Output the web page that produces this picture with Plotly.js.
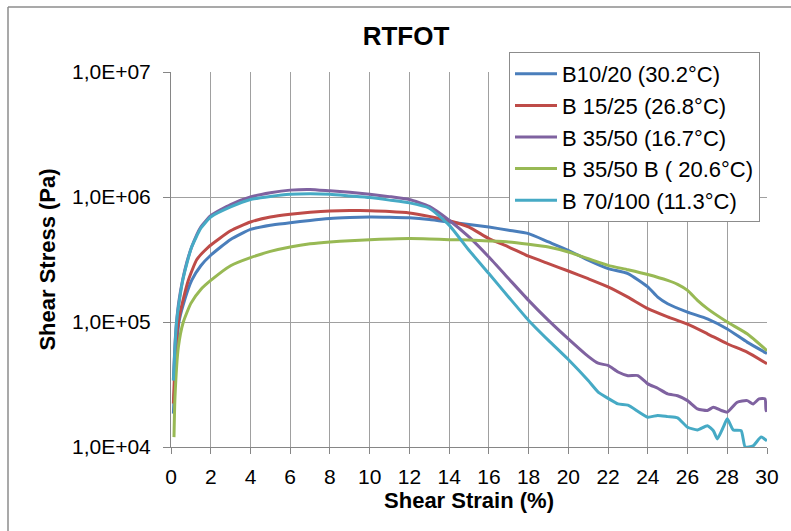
<!DOCTYPE html>
<html>
<head>
<meta charset="utf-8">
<script src="https://cdn.plot.ly/plotly-3.0.1.min.js"></script>
<style>
html,body{margin:0;padding:0;background:#fff;}
#chart{width:791px;height:531px;}
</style>
</head>
<body>
<div id="chart"></div>
<script>
// Series names
const seriesNames = ["B10/20 (30.2°C)", "B 15/25 (26.8°C)", "B 35/50 (16.7°C)", "B 35/50 B ( 20.6°C)", "B 70/100 (11.3°C)"];
const seriesColors = ["#4A7EBB", "#BE4B48", "#7F62A0", "#98B954", "#46AAC5"];

// B10/20
const strainB1020 = [0.12,0.2,0.29,0.4,0.6,1.04,1.5,2,3,4,5,6,7,8,9,10,11,12,13,14,15,16,17,18,19,20,21,22,23,24,24.5,25,26,27,28,29,30];
const stressB1020 = [1.85e4,3.55e4,6.3e4,1.0e5,1.35e5,2.15e5,2.82e5,3.42e5,4.57e5,5.5e5,5.95e5,6.21e5,6.5e5,6.73e5,6.85e5,6.92e5,6.89e5,6.81e5,6.61e5,6.31e5,6.03e5,5.75e5,5.42e5,5.09e5,4.37e5,3.75e5,3.12e5,2.67e5,2.44e5,1.91e5,1.58e5,1.40e5,1.20e5,1.06e5,8.8e4,6.9e4,5.6e4];

// B 15/25
const strainB1525 = [0.12,0.24,0.37,0.6,0.87,1.3,1.88,3,4,5,6,7,8,9,10,11,12,13,14,15,16,17,18,19,20,21,22,23,24,25,26,27,28,29,30];
const stressB1525 = [2.23e4,6.3e4,1.0e5,1.48e5,2.15e5,3.16e5,3.98e5,5.37e5,6.31e5,6.92e5,7.28e5,7.55e5,7.74e5,7.80e5,7.76e5,7.66e5,7.46e5,7.0e5,6.46e5,5.75e5,4.65e5,3.98e5,3.36e5,2.93e5,2.56e5,2.22e5,1.91e5,1.58e5,1.28e5,1.10e5,9.6e4,8.05e4,6.7e4,5.74e4,4.63e4];

// B 35/50
const strainB3550 = [0.12,0.2,0.28,0.4,0.59,0.8,1.04,1.5,2,3,4,5,6,7,8,9,10,11,12,13,14,15,16,17,18,19,20,21,21.5,22,22.5,23,23.5,24,24.5,25,25.5,26,26.5,27,27.3,27.7,28,28.5,29,29.3,29.6,29.9,29.95,30];
const stressB3550 = [3.47e4,6.6e4,1.0e5,1.48e5,2.19e5,3.02e5,3.98e5,5.75e5,7.08e5,8.71e5,1.0e6,1.08e6,1.135e6,1.15e6,1.12e6,1.09e6,1.05e6,1.007e6,9.55e5,8.41e5,6.52e5,4.79e5,3.31e5,2.22e5,1.49e5,1.03e5,7.33e4,5.31e4,4.68e4,4.49e4,3.98e4,3.72e4,3.73e4,3.2e4,2.95e4,2.66e4,2.57e4,2.35e4,2.02e4,1.96e4,2.08e4,1.96e4,1.90e4,2.28e4,2.35e4,2.21e4,2.43e4,2.43e4,1.95e4,2.0e4];

// B 35/50 B
const strainB3550B = [0.15,0.2,0.37,0.62,1.0,1.5,2,3,4,5,6,7,8,9,10,11,12,13,14,15,16,17,18,19,20,21,22,23,24,25,25.5,26,26.5,27,28,29,30];
const stressB3550B = [1.2e4,2.5e4,6.3e4,1.0e5,1.41e5,1.82e5,2.15e5,2.82e5,3.27e5,3.67e5,3.98e5,4.22e5,4.37e5,4.47e5,4.56e5,4.61e5,4.65e5,4.62e5,4.56e5,4.52e5,4.45e5,4.37e5,4.19e5,3.98e5,3.63e5,3.21e5,2.84e5,2.62e5,2.40e5,2.15e5,2.0e5,1.79e5,1.49e5,1.28e5,1.0e5,8.05e4,5.9e4];

// B 70/100
const strainB70100 = [0.12,0.2,0.28,0.4,0.59,0.8,1.04,1.5,2,3,4,5,6,7,8,9,10,11,12,13,14,15,16,17,18,19,20,21,21.5,22,22.5,23,24,24.5,25,25.5,26,26.5,27,27.3,27.5,27.8,28,28.3,28.7,28.9,29.3,29.7,30];
const stressB70100 = [3.4e4,6.3e4,1.0e5,1.41e5,2.15e5,2.95e5,3.98e5,5.62e5,6.92e5,8.32e5,9.55e5,1.01e6,1.05e6,1.06e6,1.05e6,1.02e6,9.9e5,9.44e5,8.97e5,8.13e5,5.96e5,3.75e5,2.44e5,1.58e5,1.03e5,7.13e4,5.01e4,3.4e4,2.75e4,2.45e4,2.21e4,2.16e4,1.73e4,1.79e4,1.75e4,1.71e4,1.44e4,1.37e4,1.48e4,1.35e4,1.16e4,1.44e4,1.68e4,1.37e4,1.35e4,1.0e4,1.02e4,1.2e4,1.12e4];

// Axis ticks
const xTickVals = [0,2,4,6,8,10,12,14,16,18,20,22,24,26,28,30];
const yTickVals = [1e4,1e5,1e6,1e7];
const yTickText = ["1,0E+04","1,0E+05","1,0E+06","1,0E+07"];

const xs = [strainB1020, strainB1525, strainB3550, strainB3550B, strainB70100];
const ys = [stressB1020, stressB1525, stressB3550, stressB3550B, stressB70100];

const FONT = "Liberation Sans, Arial, sans-serif";

const traces = seriesNames.map((name, i) => ({
  type: "scatter",
  mode: "lines",
  name: name,
  x: xs[i],
  y: ys[i],
  legendgroup: "g" + i,
  line: {color: seriesColors[i], width: 3, shape: "spline", smoothing: 0.5}
}));

const W = 791, H = 531;
const L = 171, R = 24, T = 72, B = 84;
const pw = W - L - R, ph = H - T - B;
function px2x(p){ return (p - L) / pw; }
function py2y(p){ return (H - B - p) / ph; }

const layout = {
  width: W, height: H,
  margin: {l: L, r: R, t: T, b: B, pad: 0},
  paper_bgcolor: "#ffffff",
  plot_bgcolor: "#ffffff",
  font: {family: FONT, color: "#000", size: 21},
  title: {
    text: "<b>RTFOT</b>",
    font: {family: FONT, size: 26, color: "#000"},
    xref: "container", x: 406 / W, xanchor: "center",
    yref: "container", y: 1 - 36 / H, yanchor: "middle"
  },
  xaxis: {
    type: "linear",
    range: [0, 30],
    tickvals: xTickVals,
    ticktext: xTickVals.map(String),
    showgrid: true, gridcolor: "#a0a0a0", gridwidth: 1,
    zeroline: false,
    showline: true, linecolor: "#868686", linewidth: 1,
    ticks: "outside", ticklen: 6, tickcolor: "#868686",
    ticklabelstandoff: 5,
    tickfont: {family: FONT, size: 21, color: "#000"},
    title: {text: "<b>Shear Strain (%)</b>", font: {family: FONT, size: 22, color: "#000"}, standoff: 1}
  },
  yaxis: {
    type: "log",
    range: [4, 7],
    tickvals: yTickVals,
    ticktext: yTickText,
    showgrid: true, gridcolor: "#a0a0a0", gridwidth: 1,
    zeroline: false,
    showline: true, linecolor: "#868686", linewidth: 1,
    ticks: "outside", ticklen: 7, tickcolor: "#868686",
    ticklabelstandoff: 8,
    tickfont: {family: FONT, size: 21, color: "#000"},
    title: {text: "<b>Shear Stress (Pa)</b>", font: {family: FONT, size: 22, color: "#000"}, standoff: 10}
  },
  legend: {
    x: px2x(509), xanchor: "left",
    y: py2y(52), yanchor: "top",
    bgcolor: "#ffffff",
    bordercolor: "#8c8c8c", borderwidth: 1,
    font: {family: FONT, size: 22, color: "#000"},
    tracegroupgap: 4,
    itemwidth: 42,
    traceorder: "normal"
  },
  shapes: [
    {type: "line", xref: "paper", yref: "paper", x0: px2x(8), x1: px2x(8), y0: py2y(7), y1: py2y(H + 5), line: {color: "#8c8c8c", width: 1.5}},
    {type: "line", xref: "paper", yref: "paper", x0: px2x(8), x1: px2x(W + 5), y0: py2y(7), y1: py2y(7), line: {color: "#8c8c8c", width: 1.5}}
  ],
  showlegend: true
};

Plotly.newPlot("chart", traces, layout, {displayModeBar: false, staticPlot: true});
</script>
</body>
</html>
